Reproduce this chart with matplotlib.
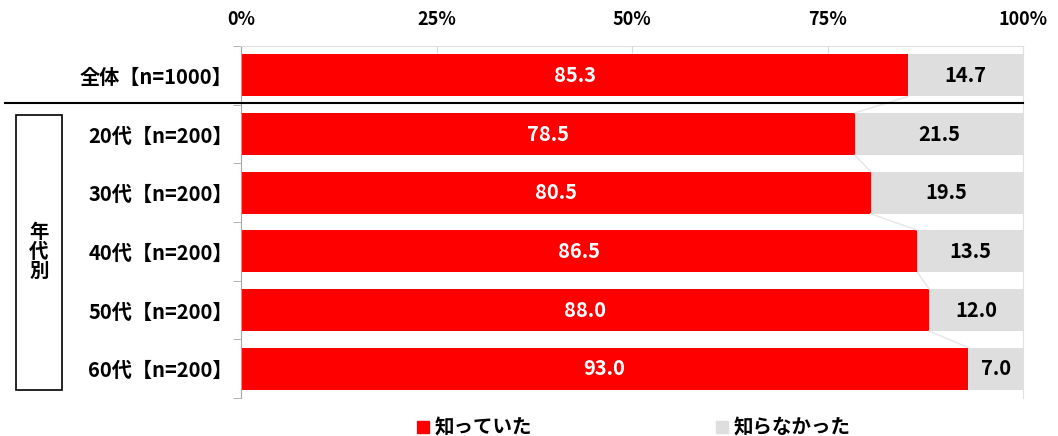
import numpy as np
import matplotlib.pyplot as plt
from matplotlib.lines import Line2D
from matplotlib.patches import Rectangle

plt.rcParams['font.family'] = ['Noto Sans CJK JP', 'DejaVu Sans']
plt.rcParams['font.weight'] = 'bold'

# data
groups = ['全体【n=1000】', '20代【n=200】', '30代【n=200】', '40代【n=200】', '50代【n=200】', '60代【n=200】']
knew = [85.3, 78.5, 80.5, 86.5, 88.0, 93.0]
not_knew = [14.7, 21.5, 19.5, 13.5, 12.0, 7.0]
series_names = ['知っていた', '知らなかった']
x_ticks = [0, 25, 50, 75, 100]
x_labels = ['0%', '25%', '50%', '75%', '100%']

red = '#ff0000'
gray = '#dedede'

fig = plt.figure(figsize=(10.58, 4.36), dpi=100)
ax = fig.add_axes([241/1058, 1-398/436, 782/1058, 352/436])

y = np.arange(len(groups))
h = 0.72
ax.barh(y, knew, height=h, color=red)
ax.barh(y, not_knew, left=knew, height=h, color=gray)

# value labels
for i in range(len(groups)):
    ax.text(knew[i]/2, y[i], f'{knew[i]:.1f}', color='white', ha='center', va='center', fontsize=14.5)
    ax.text(knew[i] + not_knew[i]/2, y[i], f'{not_knew[i]:.1f}', color='black', ha='center', va='center',
            fontsize=14.5)

# connector lines between bar ends
for i in range(len(groups)-1):
    ax.plot([knew[i], knew[i+1]], [y[i]+h/2, y[i+1]-h/2], color='#e6e6e6', lw=1)

ax.set_xlim(0, 100)
ax.set_ylim(len(groups)-0.5, -0.5)
ax.xaxis.tick_top()
ax.set_xticks(x_ticks)
ax.set_xticklabels(x_labels, fontsize=13)
ax.tick_params(axis='x', direction='in', length=5, color='#d9d9d9', pad=12)
ax.set_yticks(y)
ax.set_yticklabels(groups, fontsize=14.5)
ax.tick_params(axis='y', length=0, pad=6)
ax.set_yticks(np.arange(len(groups)+1)-0.5, minor=True)
ax.tick_params(axis='y', which='minor', length=6, color='#a6a6a6')

for s in ['top', 'right', 'bottom']:
    ax.spines[s].set_color('#e0e0e0')
ax.spines['bottom'].set_visible(False)
ax.spines['left'].set_color('#a6a6a6')

# separator below 全体
fig.add_artist(Line2D([5/1058, 1023/1058], [1-103/436, 1-103/436], color='black', lw=1.5))

# group box
fig.add_artist(Rectangle((16/1058, 1-390/436), 46/1058, 275/436, fill=False, edgecolor='black', lw=1.2))
fig.text(39/1058, 1-252/436, '年\n代\n別', ha='center', va='center', fontsize=14, linespacing=1.0)

# legend
handles = [Line2D([], [], marker='s', ls='', color=red, markersize=9),
           Line2D([], [], marker='s', ls='', color=gray, markersize=9)]
fig.legend(handles, series_names, loc='center', bbox_to_anchor=(634/1058, 1-428/436), ncol=2,
           frameon=False, fontsize=14, handlelength=0.6, handletextpad=0.3, columnspacing=9.5)

fig.savefig('out.png', dpi=100)
